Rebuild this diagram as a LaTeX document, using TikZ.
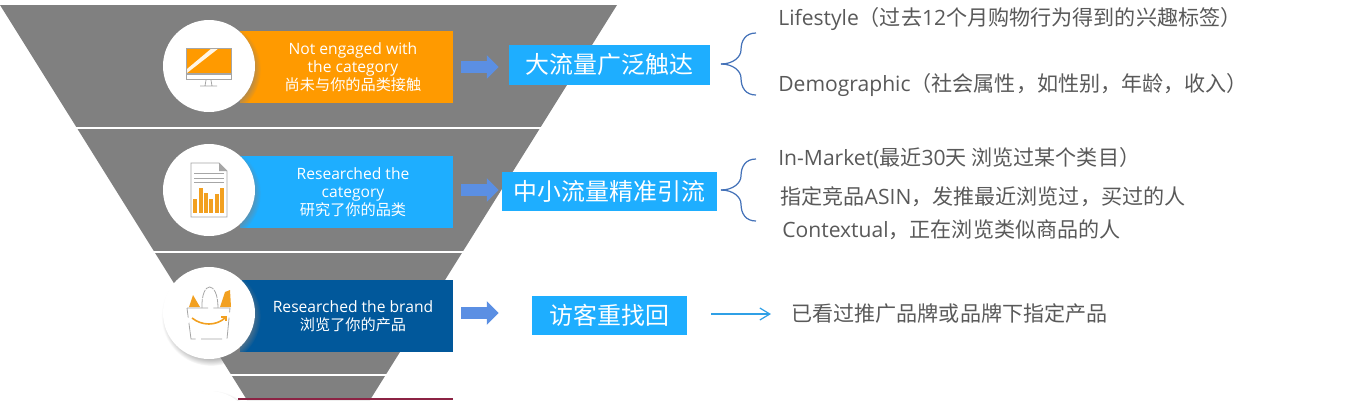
\documentclass[tikz,border=0pt]{standalone}
\usepackage{fontspec}
\setmainfont{Open Sans}
\setsansfont{Open Sans}
\newfontfamily\cjk{Noto Sans CJK SC}
\newfontfamily\cjksmall[Scale=.97]{Noto Sans CJK SC}
\usetikzlibrary{shapes.arrows,shadows,arrows.meta}

\definecolor{funnelgray}{HTML}{808080}
\definecolor{ink}{HTML}{595959}
\definecolor{reachorange}{HTML}{FF9A00}
\definecolor{skyblue}{HTML}{1EAEFF}
\definecolor{brandblue}{HTML}{01589B}
\definecolor{arrowblue}{HTML}{5B8FE3}
\definecolor{bracegray}{HTML}{4472B8}
\definecolor{linkblue}{HTML}{2FA0E6}
\definecolor{barorange}{HTML}{F2A020}
\definecolor{framegray}{HTML}{A6A6A6}
\definecolor{stripred}{HTML}{8C2344}

\begin{document}
\begin{tikzpicture}[
  x=.02cm,
  y=-.02cm,
  font=\sffamily,
  banner/.style={minimum width=4.26cm,minimum height=1.44cm,inner sep=0pt},
  bannertext/.style={font=\fontsize{8.9}{10.2}\selectfont\sffamily,text=white,align=center},
  badge/.style={circle,fill=white,minimum size=1.84cm,inner sep=0pt,
    circular drop shadow={shadow xshift=.04cm,shadow yshift=-.06cm,shadow scale=1.08,opacity=.55}},
  flowarrow/.style={single arrow,fill=arrowblue,minimum height=.75cm,minimum width=.46cm,
    single arrow head extend=.12cm,inner sep=.11cm},
  tactic/.style={fill=skyblue,text=white,minimum height=.79cm,inner sep=0pt,
    font=\fontsize{13.6}{16}\selectfont\cjk},
  detail/.style={anchor=west,inner sep=0pt,text=ink,font=\fontsize{12}{14}\selectfont\sffamily},
  bracecurve/.style={draw=bracegray,line width=.7pt},
  iconframe/.style={draw=framegray,line width=.45pt}
]
\path[use as bounding box,clip] (0,0) rectangle (1351,400);

% funnel
\fill[funnelgray] (0,5) -- (617,5) -- (370,400) -- (247,400) -- cycle;
\foreach \yy in {128,252,375}
  \draw[white,line width=.04cm] (40,\yy) -- (580,\yy);

% banners
\node[banner,fill=reachorange] (notengaged) at (346.5,67) {};
\node[banner,fill=skyblue] (category) at (346.5,192) {};
\node[banner,fill=brandblue] (brand) at (346.5,316) {};
\fill[stripred] (238,398) rectangle (453,400);

\node[bannertext] (notengagedtext) at ([xshift=.13cm]notengaged.center)
  {Not engaged with\\the category\\{\cjksmall 尚未与你的品类接触}};
\node[bannertext] (categorytext) at ([xshift=.13cm]category.center)
  {Researched the\\category\\{\cjksmall 研究了你的品类}};
\node[bannertext] (brandtext) at ([xshift=.13cm]brand.center)
  {Researched the brand\\{\cjksmall 浏览了你的产品}};

% badges
\node[badge] (screenbadge) at (209,66) {};
\node[badge] (reportbadge) at (209,190) {};
\node[badge] (bagbadge) at (209,313) {};
\node[badge] (lastbadge) at (209,437) {};

% screen icon
\fill[reachorange] (186,48) rectangle (231,73);
\fill[white!90!reachorange] (187,69) -- (212,48) -- (219,48) -- (187,73) -- cycle;
\draw[iconframe] (186,48) rectangle (231,73);
\draw[iconframe] (186,74) rectangle (231,79);
\draw[iconframe] (200,86) -- (217,86) (205,86) -- (206,80) (212,86) -- (211,80);

% report icon
\draw[iconframe,fill=white] (191,163) -- (219,163) -- (227,171) -- (227,217) -- (191,217) -- cycle;
\fill[framegray] (219,163) -- (227,171) -- (219,171) -- cycle;
\foreach \yy in {173,178,182}
  \draw[framegray,line width=.5pt] (194,\yy) -- (224,\yy);
\foreach \xx/\yy in {195/199,201/188,206/193,211/199,217/194,222/188}
  \fill[barorange] (\xx-1.7,\yy) rectangle (\xx+1.7,213);

% bag icon
\fill[barorange] (189,307) -- (193,295) -- (200,307) -- cycle;
\fill[barorange] (220,307) -- (225,292) -- (230,290) -- (231,307) -- cycle;
\draw[iconframe,dash pattern=on 5pt off .6pt] (202,308) .. controls (201,280) and (218,280) .. (218,308);
\draw[iconframe,dash pattern=on 12pt off 3pt] (187,308) -- (230,308) -- (227,339) -- (191,339) -- cycle;
\draw[barorange,line width=.9pt] (192,318) .. controls (202,326) and (216,326) .. (225,318);
\draw[barorange,line width=.7pt] (221,317) -- (226,317) -- (226,321);

% arrows and tactics
\node[flowarrow] (reacharrow) at (477,67) {};
\node[flowarrow] (precisearrow) at (477,190) {};
\node[flowarrow] (returnarrow) at (477,313) {};

\node[tactic,minimum width=4.02cm] (reach) at (609.5,65) {大流量广泛触达};
\node[tactic,minimum width=4.30cm] (precise) at (609.5,191.5) {中小流量精准引流};
\node[tactic,minimum width=3.10cm] (revisit) at (609.5,315.5) {访客重找回};

% braces
\foreach \n/\yy in {a/64,b/190}{
  \coordinate (tip\n) at (721,\yy);
  \coordinate (up\n) at (756,\yy-31);
  \coordinate (low\n) at (756,\yy+31);
  \draw[bracecurve] (tip\n) .. controls (733,\yy) and (741,\yy-7) .. (741,\yy-14)
    .. controls (741,\yy-24) and (746,\yy-31) .. (up\n);
  \draw[bracecurve] (tip\n) .. controls (733,\yy) and (741,\yy+7) .. (741,\yy+14)
    .. controls (741,\yy+24) and (746,\yy+31) .. (low\n);
}

% details
\node[detail] (lifestyle) at (778,19) {Lifestyle{\cjk（过去}12{\cjk 个月购物行为得到的兴趣标签）}};
\node[detail] (demographic) at (778,85) {Demographic{\cjk（社会属性，如性别，年龄，收入）}};
\node[detail] (inmarket) at (778,158) {In-Market({\cjk 最近}30{\cjk 天 浏览过某个类目）}};
\node[detail] (asin) at (780,197) {{\cjk 指定竞品}ASIN{\cjk ，发推最近浏览过，买过的人}};
\node[detail] (contextual) at (782,230) {Contextual{\cjk ，正在浏览类似商品的人}};
\node[detail] (seen) at (791,314) {{\cjk 已看过推广品牌或品牌下指定产品}};

\draw[linkblue,line width=.7pt,-{Straight Barb[length=.2cm,width=.24cm]},shorten <=.48cm,shorten >=.4cm]
  (revisit.east |- seen.west) -- (seen.west);
\end{tikzpicture}
\end{document}
